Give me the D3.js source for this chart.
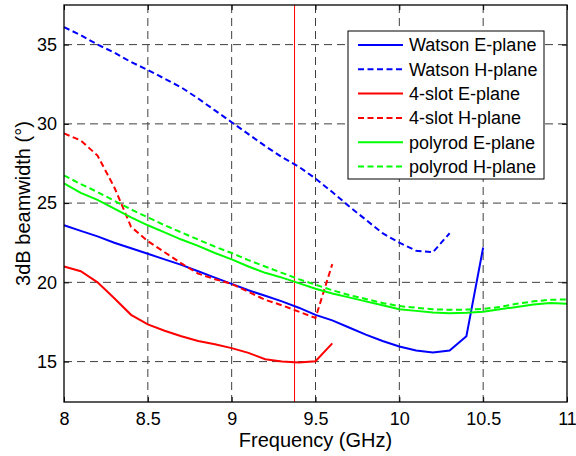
<!DOCTYPE html>
<html>
<head>
<meta charset="utf-8">
<script src="https://cdn.jsdelivr.net/npm/d3@7"></script>
<style>
  body { margin: 0; background: #fff; }
  svg { display: block; font-family: "Liberation Sans", Arial, sans-serif; }
</style>
</head>
<body>
<svg id="chart" width="576" height="456"></svg>
<script>
// 3dB beamwidth vs frequency, three antennas, E and H planes.
// Values (0.1 GHz steps).
const FREQ = [8.0, 8.1, 8.2, 8.3, 8.4, 8.5, 8.6, 8.7, 8.8, 8.9, 9.0, 9.1, 9.2, 9.3, 9.4, 9.5,
  9.6, 9.7, 9.8, 9.9, 10.0, 10.1, 10.2, 10.3, 10.4, 10.5, 10.6, 10.7, 10.8, 10.9, 11.0];

const watsonE = [23.6, 23.25, 22.9, 22.5, 22.15, 21.8, 21.45, 21.1, 20.7, 20.3, 19.9, 19.5, 19.15,
  18.8, 18.4, 17.95, 17.6, 17.15, 16.7, 16.3, 15.95, 15.7, 15.57, 15.7, 16.6, 22.2];
const watsonH = [36.1, 35.6, 35.0, 34.5, 33.9, 33.4, 32.85, 32.3, 31.6, 30.85, 30.1, 29.35, 28.6,
  27.9, 27.3, 26.55, 25.7, 24.8, 23.95, 23.1, 22.5, 22.0, 21.9, 23.1];
const slotE = [21.0, 20.7, 20.0, 19.0, 17.95, 17.35, 16.95, 16.6, 16.3, 16.1, 15.85, 15.55, 15.15,
  15.0, 14.95, 15.02, 16.15];
const slotH = [29.4, 28.95, 28.0, 26.0, 23.5, 22.6, 21.9, 21.2, 20.55, 20.2, 19.9, 19.4, 18.9,
  18.55, 18.15, 17.75, 21.15];
const polyE = [26.25, 25.65, 25.2, 24.65, 24.1, 23.6, 23.15, 22.7, 22.3, 21.85, 21.45, 21.0, 20.6,
  20.3, 19.95, 19.6, 19.3, 19.05, 18.8, 18.55, 18.3, 18.2, 18.1, 18.05, 18.08, 18.15, 18.3, 18.45,
  18.6, 18.7, 18.65];
const polyH = [26.75, 26.2, 25.7, 25.15, 24.6, 24.1, 23.6, 23.15, 22.7, 22.25, 21.85, 21.4, 21.0,
  20.6, 20.2, 19.85, 19.5, 19.2, 18.95, 18.7, 18.5, 18.4, 18.3, 18.27, 18.28, 18.32, 18.45, 18.65,
  18.8, 18.9, 18.92];

const SERIES = [
  { name: 'Watson E-plane', values: watsonE, color: '#0000ff', dashed: false },
  { name: 'Watson H-plane', values: watsonH, color: '#0000ff', dashed: true },
  { name: '4-slot E-plane', values: slotE, color: '#ff0000', dashed: false },
  { name: '4-slot H-plane', values: slotH, color: '#ff0000', dashed: true },
  { name: 'polyrod E-plane', values: polyE, color: '#00ff00', dashed: false },
  { name: 'polyrod H-plane', values: polyH, color: '#00ff00', dashed: true },
];

const X_TICKS = [8, 8.5, 9, 9.5, 10, 10.5, 11];
const Y_TICKS = [15, 20, 25, 30, 35];
const MARKER_FREQ = 9.375;

const L = 64, R = 567, T = 5, B = 402;

const svg = d3.select('#chart');
const x = d3.scaleLinear().domain([8, 11]).range([L, R]);
const y = d3.scaleLinear().domain([12.45, 37.5]).range([B, T]);

// dashed grid
const grid = svg.append('g').attr('stroke', '#000').attr('stroke-width', 1)
  .attr('stroke-dasharray', '8,5').attr('opacity', 0.75);
grid.selectAll('line.gx').data(X_TICKS.slice(1, -1)).enter().append('line')
  .attr('x1', (d) => x(d)).attr('x2', (d) => x(d)).attr('y1', T).attr('y2', B);
grid.selectAll('line.gy').data(Y_TICKS).enter().append('line')
  .attr('y1', (d) => y(d)).attr('y2', (d) => y(d)).attr('x1', L).attr('x2', R);

// marker line at the operating frequency
svg.append('line')
  .attr('x1', x(MARKER_FREQ)).attr('x2', x(MARKER_FREQ))
  .attr('y1', T).attr('y2', B)
  .attr('stroke', '#ff0000').attr('stroke-width', 1);

const line = d3.line()
  .x((d) => x(d[0]))
  .y((d) => y(d[1]));

svg.append('g').selectAll('path')
  .data(SERIES).enter().append('path')
  .attr('d', (s) => line(s.values.map((v, i) => [FREQ[i], v])))
  .attr('fill', 'none')
  .attr('stroke', (s) => s.color)
  .attr('stroke-width', 2)
  .attr('stroke-dasharray', (s) => (s.dashed ? '6,3.5' : null));

// axes: inward ticks on all four sides, MATLAB style
const fmt = (d) => String(d);
svg.append('g').attr('transform', `translate(0,${B})`)
  .call(d3.axisBottom(x).tickValues(X_TICKS).tickFormat(fmt).tickSizeInner(-5).tickSizeOuter(0).tickPadding(10));
svg.append('g').attr('transform', `translate(0,${T})`)
  .call(d3.axisTop(x).tickValues(X_TICKS).tickFormat('').tickSizeInner(-5).tickSizeOuter(0));
svg.append('g').attr('transform', `translate(${L},0)`)
  .call(d3.axisLeft(y).tickValues(Y_TICKS).tickFormat(fmt).tickSizeInner(-5).tickSizeOuter(0).tickPadding(7));
svg.append('g').attr('transform', `translate(${R},0)`)
  .call(d3.axisRight(y).tickValues(Y_TICKS).tickFormat('').tickSizeInner(-5).tickSizeOuter(0));

svg.selectAll('.domain').remove();
svg.selectAll('.tick line').attr('stroke', '#000');
svg.selectAll('.tick text').attr('fill', '#000')
  .style('font-size', '18px').style('font-family', '"Liberation Sans", Arial, sans-serif');

svg.append('rect')
  .attr('x', L).attr('y', T).attr('width', R - L).attr('height', B - T)
  .attr('fill', 'none').attr('stroke', '#000').attr('stroke-width', 1.3);

// axis titles
svg.append('text')
  .attr('x', (L + R) / 2).attr('y', 447)
  .attr('text-anchor', 'middle').attr('fill', '#000')
  .style('font-size', '20px')
  .text('Frequency (GHz)');
svg.append('text')
  .attr('transform', `translate(30,${(T + B) / 2}) rotate(-90)`)
  .attr('text-anchor', 'middle').attr('fill', '#000')
  .style('font-size', '20px')
  .text('3dB beamwidth (°)');

// legend
const LEG = { x: 348, y: 31, w: 196, h: 148, row: 24.3 };
const leg = svg.append('g').attr('transform', `translate(${LEG.x},${LEG.y})`);
leg.append('rect').attr('width', LEG.w).attr('height', LEG.h)
  .attr('fill', '#fff').attr('stroke', '#000').attr('stroke-width', 1);
const rows = leg.selectAll('g.row').data(SERIES).enter().append('g')
  .attr('transform', (d, i) => `translate(0,${14 + i * LEG.row})`);
rows.append('line')
  .attr('x1', 10).attr('x2', 55).attr('y1', 0).attr('y2', 0)
  .attr('stroke', (d) => d.color).attr('stroke-width', 2)
  .attr('stroke-dasharray', (d) => (d.dashed ? '6,3.5' : null));
rows.append('text')
  .attr('x', 61).attr('y', 0).attr('dy', '0.35em')
  .attr('fill', '#000').style('font-size', '18px')
  .text((d) => d.name);
</script>
</body>
</html>
